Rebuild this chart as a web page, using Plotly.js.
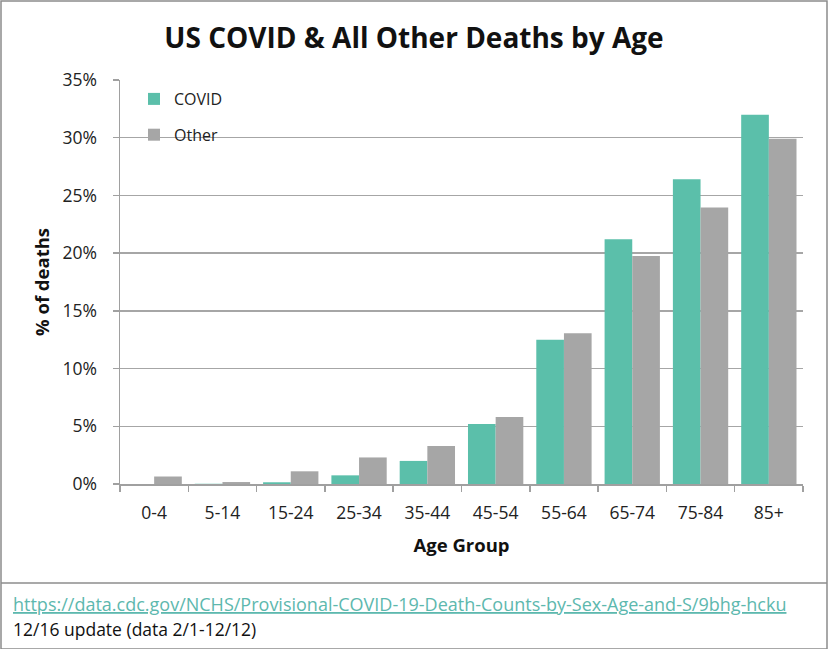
<!DOCTYPE html>
<html>
<head>
<meta charset="utf-8">
<script src="https://cdn.plot.ly/plotly-3.0.1.min.js"></script>
<style>
html,body{margin:0;padding:0;background:#fff;}
#chart{width:828px;height:649px;}
</style>
</head>
<body>
<div id="chart"></div>
<script>
const ageGroups = ["0-4","5-14","15-24","25-34","35-44","45-54","55-64","65-74","75-84","85+"];
const covidPct = [0.0, 0.02, 0.15, 0.75, 2.0, 5.2, 12.5, 21.2, 26.4, 32.0];
const otherPct = [0.65, 0.17, 1.1, 2.3, 3.3, 5.8, 13.05, 19.75, 23.95, 29.9];
const yTickVals = [0,5,10,15,20,25,30,35];
const yTickText = ["0%","5%","10%","15%","20%","25%","30%","35%"];

const FONT = "Open Sans, Noto Sans, sans-serif";

const traces = [
  {type:"bar", name:"COVID", x:ageGroups, y:covidPct, marker:{color:"#5BBFAA"}, legendgroup:"a", hoverinfo:"x+y"},
  {type:"bar", name:"Other", x:ageGroups, y:otherPct, marker:{color:"#A6A6A6"}, legendgroup:"b", hoverinfo:"x+y"}
];

const L=120, R=25, T=80, B=165, W=828, H=649;
const pw = W-L-R, ph = H-T-B;
const px = X => (X-L)/pw;
const py = Y => (H-B-Y)/ph;

const layout = {
  width:W, height:H,
  margin:{l:L, r:R, t:T, b:B, pad:0},
  paper_bgcolor:"#fff", plot_bgcolor:"#fff",
  font:{family:FONT, size:15, color:"#222"},
  title:{text:"<b>US COVID &amp; All Other Deaths by Age</b>", font:{family:FONT, size:28, color:"#111"}, x:0.5, xanchor:"center", y:1-38/H, yanchor:"middle"},
  barmode:"group", bargap:0.19, bargroupgap:0,
  showlegend:true,
  legend:{x:px(134), y:py(82), xanchor:"left", yanchor:"top", bgcolor:"rgba(0,0,0,0)",
          font:{family:FONT, size:16, color:"#222"}, traceorder:"grouped", tracegroupgap:12, itemwidth:30},
  xaxis:{type:"category", range:[-0.5,9.5], showline:true, linecolor:"#A0A0A0", linewidth:1.5,
         ticks:"outside", tickson:"boundaries", ticklen:6, tickcolor:"#A0A0A0", tickwidth:1.5,
         ticklabelstandoff:12,
         showgrid:false, tickfont:{family:FONT, size:17.5, color:"#222"},
         title:{text:"<b>Age Group</b>", font:{family:FONT, size:18.5, color:"#111"}, standoff:16}},
  yaxis:{range:[0,35], tickvals:yTickVals, ticktext:yTickText, showline:true, linecolor:"#A0A0A0", linewidth:1.5,
         ticks:"outside", ticklen:6, tickcolor:"#A0A0A0", tickwidth:1.5,
         ticklabelstandoff:12,
         showgrid:true, gridcolor:"#A6A6A6", gridwidth:1.5, zeroline:false,
         tickfont:{family:FONT, size:17.5, color:"#222"},
         title:{text:"<b>% of deaths</b>", font:{family:FONT, size:18.5, color:"#111"}, standoff:8}},
  shapes:[
    {type:"rect", xref:"paper", yref:"paper", x0:px(1), x1:px(827), y0:py(649), y1:py(1), line:{color:"#8C8C8C", width:1.5}, fillcolor:"rgba(0,0,0,0)", layer:"below"},
    {type:"line", xref:"paper", yref:"paper", x0:px(1), x1:px(827), y0:py(583), y1:py(583), line:{color:"#8C8C8C", width:1.5}}
  ],
  annotations:[
    {xref:"paper", yref:"paper", x:px(11), y:py(604), xanchor:"left", yanchor:"middle", showarrow:false,
     text:"<u>https://data.cdc.gov/NCHS/Provisional-COVID-19-Death-Counts-by-Sex-Age-and-S/9bhg-hcku</u>",
     font:{family:FONT, size:18, color:"#5DB8AE"}},
    {xref:"paper", yref:"paper", x:px(11), y:py(629), xanchor:"left", yanchor:"middle", showarrow:false,
     text:"12/16 update (data 2/1-12/12)", font:{family:FONT, size:17.5, color:"#111"}}
  ]
};

Plotly.newPlot("chart", traces, layout, {displayModeBar:false, staticPlot:true});
</script>
</body>
</html>
